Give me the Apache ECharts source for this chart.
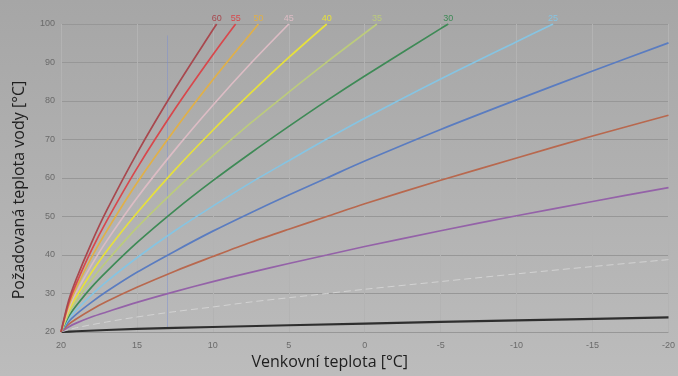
<!DOCTYPE html>
<html>
<head>
<meta charset="utf-8">
<script src="https://cdn.jsdelivr.net/npm/echarts@6/dist/echarts.min.js"></script>
<style>
  html, body { margin: 0; padding: 0; }
  #main { width: 678px; height: 376px; }
</style>
</head>
<body>
<div id="main"></div>
<script>
// ticks
var xTicks = [20, 15, 10, 5, 0, -5, -10, -15, -20];
var yTicks = [20, 30, 40, 50, 60, 70, 80, 90, 100];

// curve names (label at top) and colours
var curveNames = ['60', '55', '50', '45', '40', '35', '30', '25', '20', '15', '10', '5', '1'];
var curveColors = ['#a8484e', '#d8484c', '#e0b048', '#dcbcc4', '#e6e03c', '#bccb7c',
                   '#3e8a56', '#86c4e2', '#5a7cc0', '#b8684e', '#9462a8', '#d2d2d2', '#2e2e2e'];

// [outdoor temp, water temp]
var curve60 = [[20,20],[19.5,28.1],[19,33.7],[18,43.1],[17,51.5],[15,66.4],[12.5,83.1],[10,98.5],[9.75,100]];
var curve55 = [[20,20],[19.5,27.4],[19,32.5],[18,41.2],[17,48.8],[15,62.5],[12.5,77.9],[10,92.0],[8.5,100]];
var curve50 = [[20,20],[19.5,26.7],[19,31.4],[18,39.3],[17,46.2],[15,58.7],[12.5,72.6],[10,85.5],[7.5,97.6],[7,100]];
var curve45 = [[20,20],[19.5,26.0],[19,30.2],[18,37.3],[17,43.6],[15,54.8],[12.5,67.3],[10,78.9],[7.5,89.8],[5,100]];
var curve40 = [[20,20],[19.5,25.4],[19,29.1],[18,35.4],[17,41.0],[15,50.9],[12.5,62.1],[10,72.4],[7.5,82.1],[5,91.3],[2.5,100]];
var curve35 = [[20,20],[19.5,24.7],[19,28.0],[18,33.5],[17,38.3],[15,47.1],[12.5,56.8],[10,65.8],[7.5,74.3],[5,82.3],[2.5,90.1],[0,97.6],[-0.8,100]];
var curve30 = [[20,20],[19.5,24.0],[19,26.8],[18,31.6],[17,35.7],[15,43.2],[12.5,51.6],[10,59.3],[7.5,66.5],[5,73.4],[2.5,80.1],[0,86.5],[-5,98.8],[-5.5,100]];
var curve25 = [[20,20],[19.5,23.4],[19,25.7],[18,29.6],[17,33.1],[15,39.3],[12.5,46.3],[10,52.7],[7.5,58.8],[5,64.5],[2.5,70.1],[0,75.5],[-5,85.7],[-10,95.4],[-12.4,100]];
var curve20 = [[20,20],[19.5,22.7],[19,24.6],[18,27.7],[17,30.5],[15,35.5],[12.5,41.0],[10,46.2],[7.5,51.0],[5,55.6],[2.5,60.0],[0,64.4],[-5,72.6],[-10,80.3],[-15,87.8],[-20,95.1]];
var curve15 = [[20,20],[19.5,22.0],[19,23.4],[18,25.8],[17,27.9],[15,31.6],[12.5,35.8],[10,39.6],[7.5,43.3],[5,46.7],[2.5,50.0],[0,53.3],[-5,59.4],[-10,65.2],[-15,70.9],[-20,76.3]];
var curve10 = [[20,20],[19.5,21.3],[19,22.3],[18,23.9],[17,25.2],[15,27.7],[12.5,30.5],[10,33.1],[7.5,35.5],[5,37.8],[2.5,40.0],[0,42.2],[-5,46.3],[-10,50.2],[-15,53.9],[-20,57.5]];
var curve5 = [[20,20],[19,21.1],[17,22.6],[15,23.9],[12.5,25.3],[10,26.5],[7.5,27.8],[5,28.9],[2.5,30.0],[0,31.1],[-5,33.1],[-10,35.1],[-15,37.0],[-20,38.8]];
var curve1 = [[20,20],[19,20.2],[15,20.8],[10,21.3],[0,22.2],[-10,23.0],[-20,23.8]];

var curves = [curve60, curve55, curve50, curve45, curve40, curve35, curve30, curve25,
              curve20, curve15, curve10, curve5, curve1];

var dom = document.getElementById('main');
var myChart = echarts.init(dom);

var series = curves.map(function (pts, k) {
    var last = pts[pts.length - 1];
    var labelled = last[1] >= 100;
    return {
        name: curveNames[k],
        type: 'line',
        smooth: 0.3,
        symbol: 'circle',
        symbolSize: 0,
        showSymbol: true,
        z: 20 - k,
        lineStyle: {
            color: curveColors[k],
            width: k == 12 ? 2.2 : (k == 11 ? 1 : 1.7),
            type: k == 11 ? [7, 4] : 'solid'
        },
        itemStyle: { color: curveColors[k] },
        label: { show: false },
        data: pts.map(function (p, i) {
            if (labelled && i == pts.length - 1) {
                return {
                    value: p,
                    label: {
                        show: true,
                        position: 'top',
                        distance: 1,
                        formatter: curveNames[k],
                        color: curveColors[k],
                        fontSize: 9,
                        fontFamily: 'Liberation Sans'
                    }
                };
            }
            return p;
        }),
        animation: false
    };
});

// faint vertical marker line
series[0].markLine = {
    silent: true,
    symbol: 'none',
    label: { show: false },
    lineStyle: { color: 'rgba(120,140,210,0.45)', width: 1, type: 'solid' },
    data: [[{ coord: [13, 21] }, { coord: [13, 97] }]]
};

var option = {
    backgroundColor: new echarts.graphic.LinearGradient(0, 0, 0, 1, [
        { offset: 0, color: '#a6a6a6' },
        { offset: 1, color: '#bcbcbc' }
    ]),
    grid: {
        left: 61,
        right: 6,
        top: 24,
        bottom: 44
    },
    xAxis: {
        type: 'value',
        min: -20,
        max: 20,
        interval: 5,
        inverse: true,
        name: 'Venkovní teplota [°C]',
        nameLocation: 'middle',
        nameGap: 21,
        nameTextStyle: {
            color: '#1e1e1e',
            fontSize: 16,
            fontFamily: 'Open Sans',
            padding: [0, 70, 0, 0]
        },
        axisLine: { show: false },
        axisTick: { show: false },
        axisLabel: {
            color: '#6a6a6a',
            fontSize: 9,
            margin: 9,
            fontFamily: 'Liberation Sans'
        },
        splitLine: {
            show: true,
            lineStyle: { color: '#b3b3b3', width: 1 }
        }
    },
    yAxis: {
        type: 'value',
        min: 20,
        max: 100,
        interval: 10,
        name: 'Požadovaná teplota vody [°C]',
        nameLocation: 'middle',
        nameGap: 34,
        nameTextStyle: {
            color: '#1e1e1e',
            fontSize: 16,
            fontFamily: 'Open Sans',
            padding: [0, 24, 0, 0]
        },
        axisLine: { show: false },
        axisTick: { show: false },
        axisLabel: {
            color: '#6a6a6a',
            fontSize: 9,
            margin: 6,
            fontFamily: 'Liberation Sans'
        },
        splitLine: {
            show: true,
            lineStyle: { color: '#979797', width: 1 }
        }
    },
    series: series
};

if (option && typeof option === 'object') {
    myChart.setOption(option, true);
}
</script>
</body>
</html>
